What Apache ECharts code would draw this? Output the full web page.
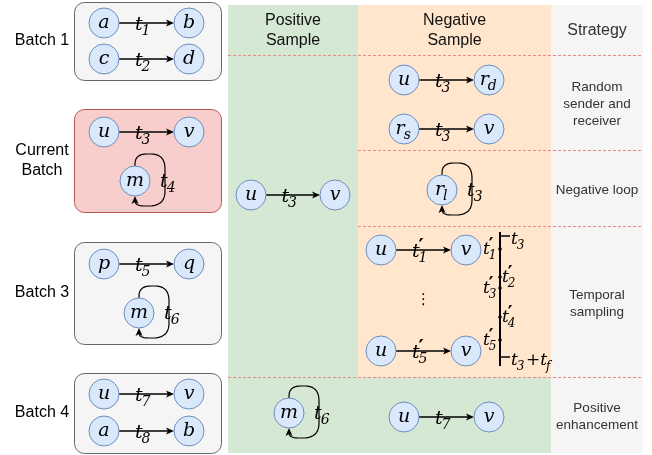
<!DOCTYPE html>
<html>
<head>
<meta charset="utf-8">
<script src="https://cdn.jsdelivr.net/npm/echarts@6/dist/echarts.min.js"></script>
<style>
  html, body { margin: 0; padding: 0; background: #fff; }
  #chart { width: 652px; height: 455px; }
</style>
</head>
<body>
<div id="chart"></div>
<script>
// table layout (diagram units)
const colEdges = [228, 358, 551, 643]
const rowEdges = [5, 55, 150, 226, 377, 453]
const headers = ['Positive\nSample', 'Negative\nSample', 'Strategy']
const strategies = ['Random\nsender and\nreceiver', 'Negative loop', 'Temporal\nsampling', 'Positive\nenhancement']

// [kind, column, fromRow, toRow]
const bands = [['pos', 0, 0, 5], ['neg', 1, 0, 4], ['pos', 1, 4, 5], ['strat', 2, 0, 5]]
// [fromColumn, rowEdge]
const separators = [[0, 1], [1, 2], [1, 3], [0, 4]]

// batches on the left
const batchNames = ['Batch 1', 'Current\nBatch', 'Batch 3', 'Batch 4']
const batchTop = [2, 109, 242, 373]
const batchBottom = [80, 212, 344, 453]
const batchLeft = 74
const batchRight = 221
const batchLabelX = 42

// [id, label, x, y]
const nodes = [
  ['a1', 'a', 104, 23], ['b1', 'b', 189, 23], ['c1', 'c', 104, 59], ['d1', 'd', 189, 59],
  ['u2', 'u', 104, 132], ['v2', 'v', 189, 132], ['m2', 'm', 135, 181],
  ['p3', 'p', 104, 264], ['q3', 'q', 189, 264], ['m3', 'm', 139, 313],
  ['u4', 'u', 104, 394], ['v4', 'v', 189, 394], ['a4', 'a', 104, 431], ['b4', 'b', 189, 431],
  ['uP', 'u', 251, 195], ['vP', 'v', 335, 195],
  ['uR', 'u', 404, 80], ['rd', 'r_d', 489, 80], ['rs', 'r_s', 404, 129], ['vR', 'v', 489, 129],
  ['rl', 'r_l', 442, 190],
  ['uT1', 'u', 381, 250], ['vT1', 'v', 466, 250], ['uT5', 'u', 381, 351], ['vT5', 'v', 466, 351],
  ['mE', 'm', 289, 413], ['uE', 'u', 404, 417], ['vE', 'v', 489, 417]
]
// [from, to, time label]
const edges = [
  ['a1', 'b1', 't_1'], ['c1', 'd1', 't_2'], ['u2', 'v2', 't_3'], ['p3', 'q3', 't_5'],
  ['u4', 'v4', 't_7'], ['a4', 'b4', 't_8'], ['uP', 'vP', 't_3'], ['uR', 'rd', 't_3'],
  ['rs', 'vR', 't_3'], ['uT1', 'vT1', "t'_1"], ['uT5', 'vT5', "t'_5"], ['uE', 'vE', 't_7']
]
// self loops [node, time label]
const loops = [['m2', 't_4'], ['m3', 't_6'], ['rl', 't_3'], ['mE', 't_6']]

// temporal sampling axis
const timeX = 500
const timeSpan = [232, 366]
const timeBounds = [236, 357]
const boundLabels = ['t_3', 't_3+t_f']
const sampleTimes = [249, 277, 288, 317, 340]
const sampleLabels = ["t'_1", "t'_2", "t'_3", "t'_4", "t'_5"]
const sampleSide = [-1, 1, -1, 1, -1]

const SERIF = '"DejaVu Serif", "Liberation Serif", serif'
const SANS = '"Liberation Sans", Arial, sans-serif'
const R = 15 // node radius in px

const nodeById = {}
nodes.forEach(n => { nodeById[n[0]] = n })

const mctx = document.createElement('canvas').getContext('2d')
const measure = (s, font) => { mctx.font = font; return mctx.measureText(s).width }

const txt = (t, x, y, font, fill, align, lineHeight) => ({
  type: 'text',
  style: {
    text: t, x, y, font, fill: fill || '#000',
    textAlign: align || 'left', textVerticalAlign: 'middle',
    align: align || 'left', verticalAlign: 'middle',
    lineHeight
  }
})

// small latex-like renderer: t'_1, r_d, t_3+t_f
function mathText(x, y, str, size, align) {
  const parts = []
  const re = /([A-Za-z+])(')?(?:_([A-Za-z0-9]))?/g
  let m
  while ((m = re.exec(str))) parts.push({ base: m[1], prime: !!m[2], sub: m[3] })
  const mainFont = b => (b === '+' ? '' : 'italic ') + size + 'px ' + SERIF
  const subFont = 'italic ' + Math.round(size * 0.72) + 'px ' + SERIF
  const primeFont = 'bold ' + Math.round(size * 1.05) + 'px ' + SERIF
  parts.forEach(p => {
    p.bw = measure(p.base, mainFont(p.base))
    p.pw = p.prime ? measure('′', primeFont) * 0.6 : 0
    p.sw = p.sub ? measure(p.sub, subFont) : 0
    p.adv = p.bw + Math.max(p.pw, p.sw) + (p.sub || p.prime ? 0.5 : 0)
  })
  const total = parts.reduce((s, p) => s + p.adv, 0)
  let cx = align === 'left' ? x : align === 'right' ? x - total : x - total / 2
  const els = []
  parts.forEach(p => {
    els.push(txt(p.base, cx, y, mainFont(p.base)))
    if (p.prime) els.push(txt('′', cx + p.bw - 1, y - size * 0.22, primeFont))
    if (p.sub) els.push(txt(p.sub, cx + p.bw - 1, y + size * 0.32, subFont))
    cx += p.adv
  })
  return els
}

// every math label: [x, y, text, size, align, dx, dy]
const mathLabels = []
nodes.forEach(n => mathLabels.push([n[2], n[3], n[1], 19, 'center', 0, 0]))
edges.forEach(e => {
  const a = nodeById[e[0]], b = nodeById[e[1]]
  mathLabels.push([(a[2] + b[2]) / 2, (a[3] + b[3]) / 2, e[2], 19, 'center', -3, 2])
})
loops.forEach(l => {
  const n = nodeById[l[0]]
  mathLabels.push([n[2], n[3], l[1], 19, 'left', 25, 1])
})
sampleTimes.forEach((t, i) => {
  mathLabels.push([timeX, t, sampleLabels[i], 17, sampleSide[i] < 0 ? 'right' : 'left', sampleSide[i] * 2, 1])
})
timeBounds.forEach((t, i) => mathLabels.push([timeX, t, boundLabels[i], 17, 'left', 11, 4]))

function layer(name, items, draw, z) {
  return {
    type: 'custom', name, z, silent: true, clip: false,
    data: items.map((_, i) => [0, 0, i]),
    encode: { x: 0, y: 1 },
    renderItem: (params, api) => draw(items[params.dataIndex], api, params.dataIndex)
  }
}

const bandFill = { pos: '#d5e8d4', neg: '#ffe6cc', strat: '#f5f5f5' }

const series = [
  layer('bands', bands, (b, api) => {
    const p0 = api.coord([colEdges[b[1]], rowEdges[b[2]]])
    const p1 = api.coord([colEdges[b[1] + 1], rowEdges[b[3]]])
    return { type: 'rect', shape: { x: p0[0], y: p0[1], width: p1[0] - p0[0], height: p1[1] - p0[1] }, style: { fill: bandFill[b[0]] } }
  }, 1),
  layer('separators', separators, (s, api) => {
    const p0 = api.coord([colEdges[s[0]], rowEdges[s[1]]])
    const p1 = api.coord([colEdges[3], rowEdges[s[1]]])
    return { type: 'line', shape: { x1: p0[0], y1: p0[1] + 0.5, x2: p1[0], y2: p1[1] + 0.5 }, style: { stroke: '#e88a86', lineWidth: 1, lineDash: [3, 2] } }
  }, 2),
  layer('batches', batchNames, (name, api, i) => {
    const p0 = api.coord([batchLeft, batchTop[i]])
    const p1 = api.coord([batchRight, batchBottom[i]])
    const cur = i === 1
    return {
      type: 'group', children: [
        { type: 'rect', shape: { x: p0[0] + 0.5, y: p0[1] + 0.5, width: p1[0] - p0[0], height: p1[1] - p0[1], r: 10 },
          style: { fill: cur ? '#f8cecc' : '#f5f5f5', stroke: cur ? '#b85450' : '#666666', lineWidth: 1 } },
        txt(name, api.coord([batchLabelX, 0])[0], (p0[1] + p1[1]) / 2, '16px ' + SANS, '#000', 'center', 20)
      ]
    }
  }, 2),
  layer('headers', headers, (h, api, i) => {
    const p = api.coord([(colEdges[i] + colEdges[i + 1]) / 2, (rowEdges[0] + rowEdges[1]) / 2])
    return txt(h, p[0], p[1] + 1, '16px ' + SANS, i === 2 ? '#333' : '#111', 'center', 20)
  }, 3),
  layer('strategies', strategies, (s, api, i) => {
    const p = api.coord([(colEdges[2] + colEdges[3]) / 2, (rowEdges[i + 1] + rowEdges[i + 2]) / 2])
    return txt(s, p[0], p[1] + 2, '13.5px ' + SANS, '#333', 'center', 17)
  }, 3),
  layer('edges', edges, (e, api) => {
    const a = api.coord([nodeById[e[0]][2], nodeById[e[0]][3]])
    const b = api.coord([nodeById[e[1]][2], nodeById[e[1]][3]])
    const len = Math.hypot(b[0] - a[0], b[1] - a[1])
    const ux = (b[0] - a[0]) / len, uy = (b[1] - a[1]) / len
    const sx = a[0] + ux * R, sy = a[1] + uy * R
    const tx = b[0] - ux * R, ty = b[1] - uy * R
    const back = (d, w) => [tx - ux * d - uy * w, ty - uy * d + ux * w]
    return {
      type: 'group', children: [
        { type: 'line', shape: { x1: sx, y1: sy, x2: tx - ux * 5, y2: ty - uy * 5 }, style: { stroke: '#000', lineWidth: 1.3 } },
        { type: 'polygon', shape: { points: [[tx, ty], back(8, 3.5), back(6, 0), back(8, -3.5)] }, style: { fill: '#000' } }
      ]
    }
  }, 4),
  layer('loops', loops, (l, api) => {
    const c = api.coord([nodeById[l[0]][2], nodeById[l[0]][3]])
    const pts = []
    const P = (x, y) => pts.push([c[0] + x, c[1] + y])
    const quad = (x0, y0, qx, qy, x1, y1) => {
      for (let k = 0; k <= 10; k++) {
        const t = k / 10
        P((1 - t) * (1 - t) * x0 + 2 * (1 - t) * t * qx + t * t * x1, (1 - t) * (1 - t) * y0 + 2 * (1 - t) * t * qy + t * t * y1)
      }
    }
    P(0, -R)
    quad(0, -17, 0, -27, 12, -27)
    quad(16, -27, 30, -27, 30, -12)
    quad(30, 10, 30, 25, 14, 25)
    quad(10, 25, 0, 25, 0, R + 5)
    return {
      type: 'group', children: [
        { type: 'polyline', shape: { points: pts }, style: { stroke: '#000', lineWidth: 1.2, fill: null } },
        { type: 'polygon', shape: { points: [[c[0], c[1] + R], [c[0] - 3.5, c[1] + R + 8], [c[0], c[1] + R + 6], [c[0] + 3.5, c[1] + R + 8]] }, style: { fill: '#000' } }
      ]
    }
  }, 4),
  layer('timeline', [0], (_, api) => {
    const top = api.coord([timeX, timeSpan[0]])
    const bot = api.coord([timeX, timeSpan[1]])
    const children = [{ type: 'line', shape: { x1: top[0], y1: top[1], x2: bot[0], y2: bot[1] }, style: { stroke: '#000', lineWidth: 2 } }]
    timeBounds.forEach(t => {
      const p = api.coord([timeX, t])
      children.push({ type: 'line', shape: { x1: p[0], y1: p[1], x2: p[0] + 10, y2: p[1] }, style: { stroke: '#000', lineWidth: 1.5 } })
    })
    sampleTimes.forEach(t => {
      const p = api.coord([timeX, t])
      children.push({ type: 'circle', shape: { cx: p[0], cy: p[1], r: 1.8 }, style: { fill: '#000' } })
    })
    const a = nodeById.uT1, b = nodeById.vT1, c = nodeById.uT5
    const d = api.coord([(a[2] + b[2]) / 2, (a[3] + c[3]) / 2])
    children.push(txt('⋮', d[0], d[1], '15px "DejaVu Sans"', '#000', 'center'))
    return { type: 'group', children }
  }, 4),
  {
    type: 'scatter', name: 'nodes', z: 5, silent: true, symbol: 'circle', symbolSize: 2 * R,
    data: nodes.map(n => [n[2], n[3]]),
    itemStyle: { color: '#dae8fc', borderColor: '#6c8ebf', borderWidth: 1, opacity: 1 }
  },
  layer('math', mathLabels, (m, api) => {
    const p = api.coord([m[0], m[1]])
    return { type: 'group', children: mathText(p[0] + m[5], p[1] + m[6], m[2], m[3], m[4]) }
  }, 6)
]

const chart = echarts.init(document.getElementById('chart'), null, { renderer: 'canvas' })
chart.setOption({
  animation: false,
  grid: { left: 0, right: 0, top: 0, bottom: 0 },
  xAxis: { type: 'value', min: 0, max: 652, show: false },
  yAxis: { type: 'value', min: 0, max: 455, inverse: true, show: false },
  series
})
</script>
</body>
</html>
